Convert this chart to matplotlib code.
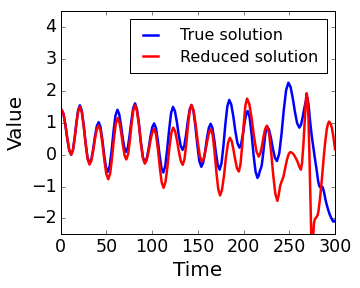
import matplotlib
matplotlib.use("Agg")
import matplotlib.pyplot as plt

plt.style.use("classic")

true_points = [
    (0, 1.40), (1, 1.41), (3.1, 1.275), (5.2, 0.923), (7.3, 0.487), (9.4, 0.135), (11.5, 0.0),
    (13.4, 0.148), (15.3, 0.536), (17.2, 1.014), (19.1, 1.402), (21, 1.55),
    (23.1, 1.376), (25.2, 0.921), (27.3, 0.359), (29.4, -0.096), (31.5, -0.27),
    (33.5, -0.147), (35.5, 0.176), (37.5, 0.574), (39.5, 0.897), (41.5, 1.02),
    (43.5, 0.871), (45.5, 0.481), (47.5, -0.001), (49.5, -0.391), (51.5, -0.54),
    (53.6, -0.354), (55.7, 0.134), (57.8, 0.736), (59.9, 1.224), (62, 1.41),
    (63.9, 1.284), (65.8, 0.954), (67.7, 0.546), (69.6, 0.216), (71.5, 0.09),
    (73.5, 0.235), (75.4, 0.615), (77.4, 1.085), (79.3, 1.465), (81.3, 1.61),
    (83.4, 1.432), (85.6, 0.967), (87.7, 0.393), (89.9, -0.072), (92, -0.25),
    (94, -0.133), (96.1, 0.175), (98.1, 0.555), (100.2, 0.863), (102.2, 0.98),
    (104.2, 0.833), (106.2, 0.448), (108.2, -0.028), (110.2, -0.413), (112.2, -0.56),
    (114.3, -0.363), (116.4, 0.152), (118.6, 0.788), (120.7, 1.303), (122.8, 1.50),
    (124.9, 1.371), (127, 1.034), (129.1, 0.616), (131.2, 0.279), (133.3, 0.15),
    (135.2, 0.285), (137.2, 0.637), (139.1, 1.073), (141.1, 1.425), (143, 1.56),
    (145.2, 1.375), (147.3, 0.89), (149.5, 0.29), (151.6, -0.195), (153.8, -0.38),
    (155.8, -0.251), (157.9, 0.086), (159.9, 0.504), (162, 0.841), (164, 0.97),
    (166, 0.832), (167.9, 0.472), (169.9, 0.028), (171.8, -0.332), (173.8, -0.47),
    (175.9, -0.261), (178, 0.287), (180.1, 0.963), (182.2, 1.511), (184.3, 1.72),
    (186.5, 1.577), (188.8, 1.202), (191, 0.738), (193.3, 0.363), (195.5, 0.22),
    (197.3, 0.33), (199.1, 0.617), (200.9, 0.973), (202.7, 1.26), (204.5, 1.37),
    (206.6, 1.169), (208.8, 0.644), (210.9, -0.004), (213.1, -0.529), (215.2, -0.73),
    (216.5, -0.66), (217.7, -0.52), (218.8, -0.44), (219.8, -0.34), (221, -0.08),
    (222.3, 0.28), (223.5, 0.58), (224.6, 0.8), (225.6, 0.89),
    (227.8, 0.786), (230, 0.513), (232.1, 0.177), (234.3, -0.096), (236.5, -0.2),
    (239, 0.035), (241.5, 0.65), (244, 1.41), (246.5, 2.025), (249, 2.26),
    (251.4, 2.125), (253.8, 1.773), (256.2, 1.337), (258.6, 0.985), (261, 0.85),
    (262.8, 0.939), (264.6, 1.171), (266.4, 1.459), (268.2, 1.691), (270, 1.78),
    (271.3, 1.5), (272.7, 1.06), (274.5, 0.6), (276.3, 0.23), (278, -0.12), (280, -0.5),
    (281.5, -0.82), (282.7, -0.98), (284, -1.03), (285.3, -1.0), (286.5, -1.02),
    (288, -1.18), (289.5, -1.4), (291, -1.58), (292.7, -1.75), (294.5, -1.9),
    (296.4, -2.02), (298, -2.1), (299, -2.1), (300, -2.07),
]

reduced_points = [
    (0, 1.40), (1, 1.41), (3.1, 1.275), (5.2, 0.923), (7.3, 0.487), (9.4, 0.135), (11.5, 0.0),
    (13.4, 0.143), (15.3, 0.518), (17.2, 0.982), (19.1, 1.357), (21, 1.50),
    (23.1, 1.327), (25.2, 0.875), (27.3, 0.315), (29.4, -0.137), (31.5, -0.31),
    (33.5, -0.193), (35.5, 0.115), (37.5, 0.495), (39.5, 0.803), (41.5, 0.92),
    (43.6, 0.759), (45.7, 0.336), (47.8, -0.186), (49.9, -0.609), (52, -0.77),
    (54.1, -0.587), (56.1, -0.107), (58.2, 0.487), (60.2, 0.967), (62.3, 1.15),
    (64.2, 1.026), (66.1, 0.701), (68, 0.299), (69.9, -0.026), (71.8, -0.15),
    (73.7, 0.012), (75.6, 0.437), (77.5, 0.963), (79.4, 1.388), (81.3, 1.55),
    (83.4, 1.375), (85.6, 0.918), (87.7, 0.352), (89.9, -0.105), (92, -0.28),
    (94, -0.176), (96.1, 0.097), (98.1, 0.433), (100.2, 0.706), (102.2, 0.81),
    (104.3, 0.633), (106.3, 0.171), (108.4, -0.401), (110.4, -0.863), (112.5, -1.04),
    (114.6, -0.86), (116.7, -0.387), (118.8, 0.197), (120.9, 0.67), (123, 0.85),
    (125.1, 0.738), (127.2, 0.446), (129.3, 0.084), (131.4, -0.208), (133.5, -0.32),
    (135.4, -0.14), (137.3, 0.33), (139.2, 0.91), (141.1, 1.38), (143, 1.56),
    (145.3, 1.39), (147.6, 0.945), (149.9, 0.395), (152.2, -0.05), (154.5, -0.22),
    (156.5, -0.123), (158.4, 0.132), (160.4, 0.448), (162.3, 0.703), (164.3, 0.80),
    (166.3, 0.601), (168.3, 0.081), (170.3, -0.561), (172.3, -1.081), (174.3, -1.28),
    (176.4, -1.107), (178.6, -0.655), (180.7, -0.095), (182.9, 0.357), (185, 0.53),
    (187, 0.429), (188.9, 0.164), (190.9, -0.164), (192.8, -0.429), (194.8, -0.53),
    (196.6, -0.311), (198.4, 0.261), (200.2, 0.969), (202, 1.541), (203.8, 1.76),
    (206.3, 1.586), (208.9, 1.131), (211.4, 0.569), (214, 0.114), (216.5, -0.06),
    (218.3, 0.033), (220.1, 0.275), (221.9, 0.575), (223.7, 0.817), (225.5, 0.91),
    (227.8, 0.685), (230.1, 0.095), (232.4, -0.635), (234.7, -1.225), (237, -1.45),
    (238.5, -1.25), (240, -0.98), (241.5, -0.85), (243.5, -0.7), (245.5, -0.42),
    (247.5, -0.15), (249.5, 0.03), (251, 0.08), (253, 0.06), (255, 0.0), (257, -0.1),
    (259, -0.22), (261, -0.38), (262.7, -0.47), (264, -0.25), (265.5, 0.35),
    (267, 1.15), (268.2, 1.75), (269, 1.93), (270, 1.75), (271, 1.1), (272, 0.0),
    (273, -1.3), (274, -2.5), (275, -3.0), (276, -2.6), (277, -2.15), (278, -2.02),
    (279.5, -1.97), (281, -1.9), (282, -1.75), (283.5, -1.4), (285.5, -0.81),
    (287.3, -0.2), (289, 0.33), (291, 0.8), (292.3, 0.97), (293.5, 1.04),
    (295, 0.98), (296.5, 0.85), (298, 0.6), (299, 0.4), (300, 0.17),
]

series_labels = ["True solution", "Reduced solution"]
x_ticks = [0, 50, 100, 150, 200, 250, 300]
y_ticks = [-2, -1, 0, 1, 2, 3, 4]

fig = plt.figure(figsize=(5, 4), dpi=72, facecolor="white")
ax = fig.add_axes([0.1686, 0.1865, 0.7620, 0.7740])

t1, v1 = zip(*true_points)
t2, v2 = zip(*reduced_points)
ax.plot(t1, v1, color="#0000ff", lw=2.5, label=series_labels[0])
ax.plot(t2, v2, color="#ff0000", lw=2.5, label=series_labels[1])

ax.set_xlim(0, 300)
ax.set_ylim(-2.5, 4.5)
ax.set_xticks(x_ticks)
ax.set_yticks(y_ticks)
ax.tick_params(labelsize=17.5)
ax.set_xlabel("Time", fontsize=20)
ax.set_ylabel("Value", fontsize=20)

ax.legend(loc="upper right", fontsize=16, handlelength=1.5, handletextpad=1.1,
          labelspacing=0.4, borderpad=0.55, frameon=True, fancybox=False)

fig.savefig("out.png", dpi=72, facecolor="white")
